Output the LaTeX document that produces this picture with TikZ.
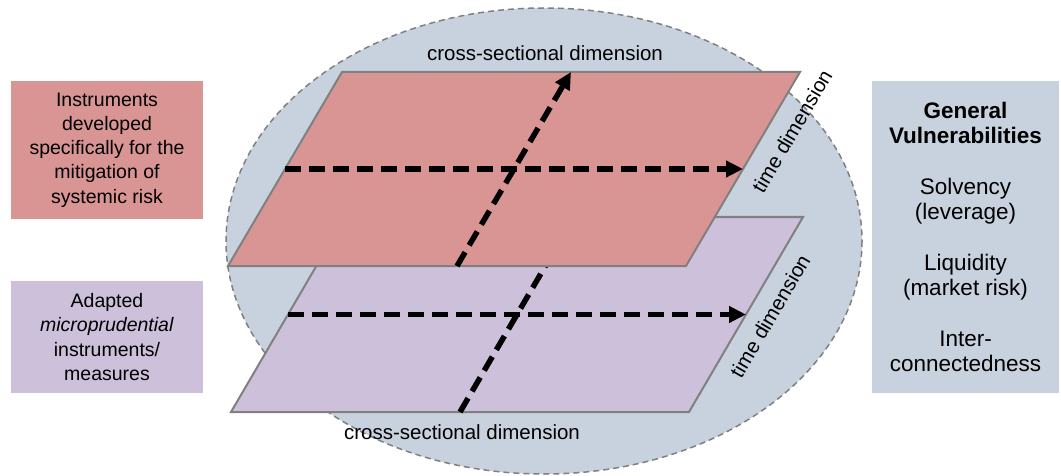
\documentclass[tikz,border=0pt]{standalone}
\usepackage{fontspec}
\setmainfont{Liberation Sans}
\usetikzlibrary{arrows.meta,calc}
\definecolor{redc}{RGB}{217,149,148}
\definecolor{purc}{RGB}{204,192,218}
\definecolor{ellc}{RGB}{200,210,222}
\definecolor{edgec}{RGB}{128,128,128}
\begin{document}
\begin{tikzpicture}[x=1pt,y=-1pt,
  plane/.style={draw=edgec, line width=2pt, line join=miter},
  dimarrow/.style={line width=5.5pt, dash pattern=on 16pt off 8pt, -{Triangle[length=17pt,width=16pt]}},
  sidebox/.style={inner sep=0pt, align=center, font=\fontsize{19.5}{24.3}\selectfont},
  dimlabel/.style={inner sep=0pt, font=\fontsize{20.5}{24}\selectfont}
]
\useasboundingbox (0,0) rectangle (1061,476);
% background ellipse
\draw[fill=ellc, draw=edgec, line width=1.5pt, dash pattern=on 6pt off 4pt] (544,241) ellipse [x radius=318, y radius=233];
% side boxes
\node[sidebox, fill=redc, minimum width=192pt, minimum height=138pt] (rbox) at (107,150)
  {Instruments\\developed\\specifically for the\\mitigation of\\systemic risk};
\node[sidebox, fill=purc, minimum width=192pt, minimum height=112pt] (pbox) at (107,337)
  {Adapted\\\textit{microprudential}\\instruments/\\measures};
\node[inner sep=0pt, align=center, fill=ellc, minimum width=187pt, minimum height=312pt,
  font=\fontsize{22.5}{25.5}\selectfont] (vbox) at (965.5,237)
  {\textbf{General}\\\textbf{Vulnerabilities}\\[25pt]Solvency\\(leverage)\\[25pt]Liquidity\\(market risk)\\[25pt]Inter-\\connectedness};
% lower plane
\coordinate (p1) at (345,217);
\coordinate (p2) at (803,217);
\coordinate (p3) at (689,412);
\coordinate (p4) at (231,412);
\draw[plane, fill=purc] (p1) -- (p2) -- (p3) -- (p4) -- cycle;
\coordinate (pl) at ($(p1)!0.5!(p4)$);
\coordinate (pr) at ($(p2)!0.5!(p3)$);
\coordinate (pb) at ($(p4)!0.5!(p3)$);
\coordinate (pt) at ($(p1)!0.5!(p2)$);
\draw[dimarrow] (pl) -- (pr);
\draw[dimarrow] (pb) -- (pt);
% upper plane
\coordinate (r1) at (342,72);
\coordinate (r2) at (800,72);
\coordinate (r3) at (686,266);
\coordinate (r4) at (228,266);
\draw[plane, fill=redc] (r1) -- (r2) -- (r3) -- (r4) -- cycle;
\coordinate (rl) at ($(r1)!0.5!(r4)$);
\coordinate (rr) at ($(r2)!0.5!(r3)$);
\coordinate (rb) at ($(r4)!0.5!(r3)$);
\coordinate (rt) at ($(r1)!0.5!(r2)$);
\draw[dimarrow] (rl) -- (rr);
\draw[dimarrow] (rb) -- (rt);
% labels
\node[dimlabel] (csTop) at (545,53) {cross-sectional dimension};
\node[dimlabel] (csBot) at (462,432) {cross-sectional dimension};
\node[dimlabel, rotate=59.6] (tdTop) at (792,131) {time dimension};
\node[dimlabel, rotate=59.6] (tdBot) at (770,316) {time dimension};
\end{tikzpicture}
\end{document}
